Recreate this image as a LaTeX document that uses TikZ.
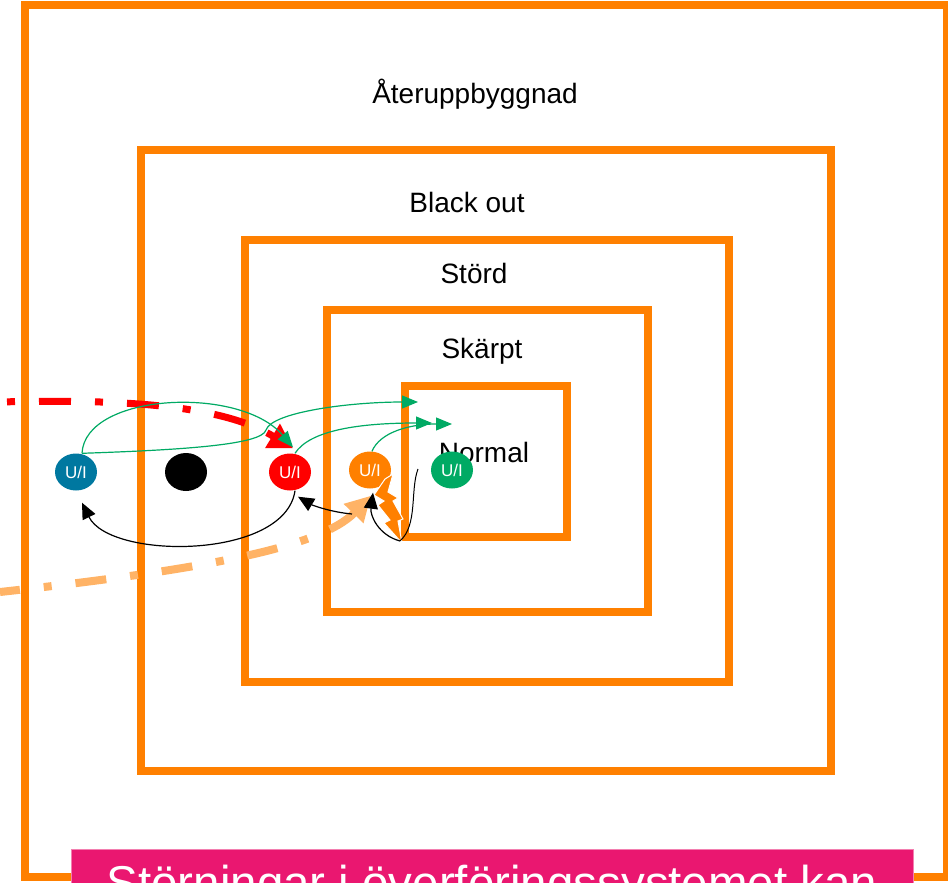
\documentclass[tikz,border=0pt]{standalone}
\usepackage{fontspec}
\setmainfont{Liberation Sans}
\usetikzlibrary{arrows.meta,shapes.geometric}
\definecolor{frameorange}{RGB}{255,128,0}
\definecolor{uiblue}{RGB}{0,120,160}
\definecolor{uigreen}{RGB}{0,170,100}
\definecolor{lightorange}{RGB}{255,179,102}
\definecolor{banner}{RGB}{234,23,112}
\begin{document}
\begin{tikzpicture}[x=1pt,y=-1pt,
  zone/.style={draw=frameorange,line width=8pt},
  zonelabel/.style={anchor=base,inner sep=0pt,font=\fontsize{28}{32}\selectfont},
  unit/.style={ellipse,minimum width=42pt,minimum height=37pt,inner sep=0pt,
    text=white,font=\fontsize{17}{19}\selectfont},
  flow/.style={draw=uigreen,line width=1.2pt,-{Triangle[length=16pt,width=13pt]}},
  move/.style={draw=black,line width=1.2pt,-{Triangle[length=16pt,width=14pt]}},
]
\useasboundingbox (0,0) rectangle (948,883);
\begin{scope}
\clip (0,0) rectangle (948,883);

% nested operating states
\draw[zone] (25,5) rectangle (947,876.5);
\draw[zone] (141,150) rectangle (831,771);
\draw[zone] (245,240) rectangle (729,682);
\draw[zone] (327,310) rectangle (648,612);
\draw[zone] (405,385.5) rectangle (567,537);

\node[zonelabel] (labRebuild) at (475,103) {Återuppbyggnad};
\node[zonelabel] (labBlack) at (467,212) {Black out};
\node[zonelabel] (labStord) at (474,283) {Störd};
\node[zonelabel] (labSkarpt) at (482,358) {Skärpt};
\node[zonelabel] (labNormal) at (484,462) {Normal};

% banner
\fill[banner,draw=banner!55!white,line width=1pt] (71,849) rectangle (913,960);
\node[anchor=base,inner sep=0pt,text=white,font=\fontsize{47.5}{50}\selectfont]
  (bannerText) at (492,899) {Störningar i överföringssystemet kan};

% units
\node[unit,fill=uiblue] (ub) at (76,472) {U/I};
\node[unit,fill=black,minimum height=38pt] (uk) at (186,472) {};
\node[unit,fill=red] (ur) at (290,472) {U/I};
\node[unit,fill=frameorange] (uo) at (370,470) {U/I};
\node[unit,fill=uigreen] (ug) at (452,470) {U/I};

% free ends
\coordinate (redSrc) at (0,402);
\coordinate (lightSrc) at (0,592);
\coordinate (greenTipA) at (418,402);
\coordinate (greenTipB) at (432,423);
\coordinate (greenTipC) at (452,424);
\coordinate (boltEnd) at (400,541);
\coordinate (pushStart) at (352,514);
\coordinate (normalDrop) at (418,469);

% incoming disturbances
\draw[red,line width=7pt,dash pattern=on 8pt off 24pt on 32pt off 24pt,dash phase=81pt,
  -{Triangle[length=24pt,width=27pt]}]
  (redSrc) .. controls (150,398) and (230,410) .. ([shift={(3,-5)}]ur.north);
\draw[lightorange,line width=8pt,dash pattern=on 31pt off 24pt on 8pt off 24pt,dash phase=11pt,
  -{Triangle[length=25pt,width=26pt]}]
  (lightSrc) .. controls (200,570) and (320,548) .. ([shift={(1,7)}]uo.south);

% lightning
\filldraw[fill=frameorange,draw=white,line width=1pt]
  (385,479) -- (393,474) -- (388,492) -- (398,498) -- (393,501) -- (403,519)
  -- (398,521) -- (402,543) -- (384,523) -- (390,520) -- (378,505) -- (384,501)
  -- (374,495) -- cycle;

% green transitions
\draw[flow] ([xshift=6pt]ub.north) .. controls (85,393) and (240,385) .. ([shift={(3,-6)}]ur.north);
\draw[flow] ([xshift=6pt]ub.north) .. controls (180,450) and (262,445) .. (266,430)
  .. controls (272,412) and (350,402) .. (greenTipA);
\draw[flow] ([xshift=5pt]ur.north) .. controls (310,430) and (360,423) .. (greenTipB);
\draw[flow] ([xshift=2pt]uo.north) .. controls (380,432) and (410,424) .. (greenTipC);

% black transitions
\draw[move] ([xshift=5pt]ur.south) .. controls (285,560) and (110,560) .. ([shift={(6,12)}]ub.south);
\draw[move] (pushStart) .. controls (330,512) and (312,505) .. ([shift={(8,6)}]ur.south);
\draw[move] (boltEnd) .. controls (378,535) and (370,515) .. ([shift={(3,4)}]uo.south);
\draw[black,line width=1pt] (normalDrop) .. controls (410,490) and (418,525) .. (boltEnd);

\end{scope}
\end{tikzpicture}
\end{document}
